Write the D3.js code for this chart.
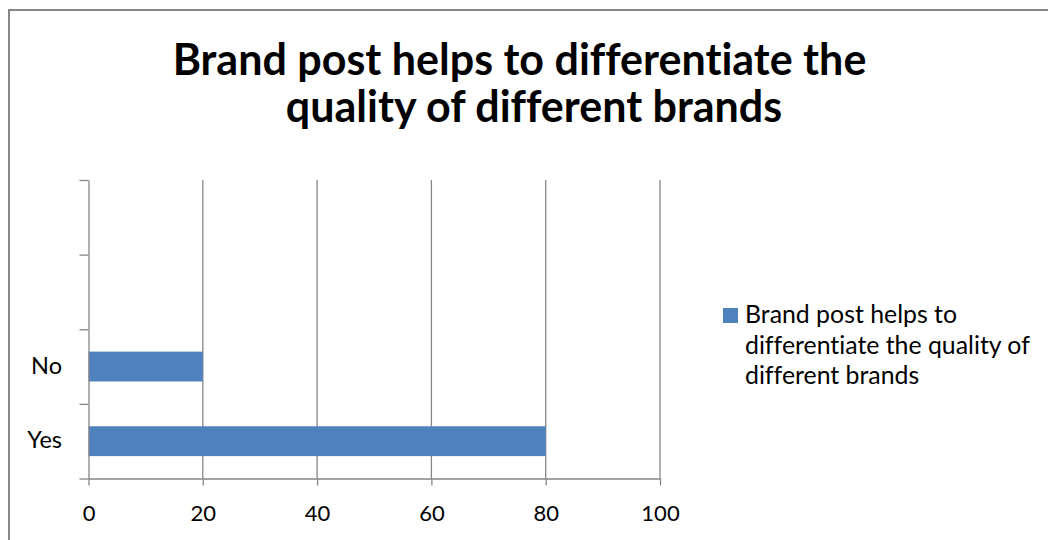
<!DOCTYPE html>
<html>
<head>
<meta charset="utf-8">
<script src="https://cdn.jsdelivr.net/npm/d3@7"></script>
<style>
  html, body { margin: 0; padding: 0; background: #fff; }
  svg { display: block; font-family: Lato, "Open Sans", sans-serif; font-variant-ligatures: none; }
</style>
</head>
<body>
<svg id="chart" width="1048" height="540"></svg>
<script>
// Survey responses, listed top to bottom in the category axis (two empty rows above)
const categories = ["", "", "No", "Yes"];
const values = [null, null, 20, 80];
const xTicks = [0, 20, 40, 60, 80, 100];
const titleLines = ["Brand post helps to differentiate the", "quality of different brands"];
const legendLines = ["Brand post helps to", "differentiate the quality of", "different brands"];

const svg = d3.select("#chart");
const grey = "#868686";
const barColor = "#4F81BD";

// outer chart frame
svg.append("rect")
  .attr("x", 9).attr("y", 10)
  .attr("width", 1100).attr("height", 600)
  .attr("fill", "#fff").attr("stroke", grey).attr("stroke-width", 2);

const plot = { left: 88.5, right: 660, top: 180, bottom: 478.5 };

const x = d3.scaleLinear().domain([0, 100]).range([plot.left, plot.right]);
const y = d3.scaleBand()
  .domain(d3.range(categories.length))
  .range([plot.top, plot.bottom])
  .paddingInner(0.6)
  .paddingOuter(0.3);

// vertical gridlines
svg.append("g")
  .selectAll("line")
  .data(xTicks.filter(t => t > 0))
  .join("line")
  .attr("x1", d => x(d)).attr("x2", d => x(d))
  .attr("y1", plot.top).attr("y2", plot.bottom)
  .attr("stroke", grey).attr("stroke-width", 1.3);

// bars
svg.append("g")
  .selectAll("rect")
  .data(values.map((v, i) => ({ v, i })).filter(d => d.v != null))
  .join("rect")
  .attr("x", x(0))
  .attr("y", d => y(d.i))
  .attr("width", d => x(d.v) - x(0))
  .attr("height", y.bandwidth())
  .attr("fill", barColor);

// value axis along the bottom
const xAxis = svg.append("g")
  .attr("transform", `translate(0,${plot.bottom})`)
  .call(d3.axisBottom(x).tickValues(xTicks).tickSize(7).tickPadding(20).tickSizeOuter(0));
xAxis.select(".domain").attr("stroke", grey).attr("stroke-width", 1.3);
xAxis.selectAll(".tick line").attr("stroke", grey).attr("stroke-width", 1.3);
xAxis.selectAll(".tick text")
  .attr("fill", "#000").attr("font-size", 22).attr("font-family", "Lato, sans-serif");

// category axis: ticks on band boundaries, labels at band centres
const bounds = d3.scaleLinear().domain([0, categories.length]).range([plot.top, plot.bottom]);
const yAxis = svg.append("g")
  .attr("transform", `translate(${plot.left},0)`)
  .call(d3.axisLeft(bounds).ticks(categories.length).tickFormat("").tickSize(9).tickSizeOuter(0));
yAxis.select(".domain").attr("stroke", grey).attr("stroke-width", 1.3);
yAxis.selectAll(".tick line").attr("stroke", grey).attr("stroke-width", 1.3);

svg.append("g")
  .selectAll("text")
  .data(categories)
  .join("text")
  .attr("x", 62)
  .attr("y", (d, i) => y(i) + y.bandwidth() / 2)
  .attr("dy", "0.3em")
  .attr("text-anchor", "end")
  .attr("font-size", 23.5)
  .attr("fill", "#000")
  .text(d => d);

// title, sized so the first line spans the measured width
const title = svg.append("g");
const titleCenters = [519.5, 534];
const titleBaselines = [75, 122];
title.selectAll("text")
  .data(titleLines)
  .join("text")
  .attr("x", (d, i) => titleCenters[i])
  .attr("y", (d, i) => titleBaselines[i])
  .attr("text-anchor", "middle")
  .attr("font-weight", "bold")
  .attr("font-size", 36)
  .attr("fill", "#000")
  .text(d => d);
const firstW = title.select("text").node().getComputedTextLength();
title.selectAll("text").attr("font-size", 36 * 694 / firstW);

// legend
const legend = svg.append("g");
legend.append("rect")
  .attr("x", 723).attr("y", 308)
  .attr("width", 15).attr("height", 15)
  .attr("fill", barColor);
const legendText = legend.selectAll("text")
  .data(legendLines)
  .join("text")
  .attr("x", 745)
  .attr("y", (d, i) => 323 + i * 30.5)
  .attr("font-size", 24)
  .attr("fill", "#000")
  .text(d => d);
const lw = legendText.filter((d, i) => i === 1).node().getComputedTextLength();
legendText.attr("font-size", 24 * 285 / lw);
</script>
</body>
</html>
